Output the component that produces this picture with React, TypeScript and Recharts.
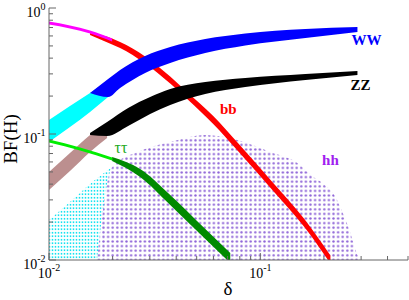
import React from 'react';
import { ComposedChart, Area, XAxis, YAxis, ReferenceDot } from 'recharts';

type Row = [number, number, number]; // [delta, lower BF, upper BF]

// hh : dotted scan region (light mass part / heavy mass part)
const hhLowMass: Row[] = [
  [0.01, 0.01, 0.02077],
  [0.01257, 0.01, 0.02886],
  [0.01564, 0.01, 0.0401],
  [0.01989, 0.01, 0.05471],
];
const hhHighMass: Row[] = [
  [0.01688, 0.01, 0.01],
  [0.01989, 0.01, 0.05471],
  [0.027, 0.01, 0.0733],
  [0.03746, 0.01, 0.0864],
  [0.05487, 0.01, 0.09819],
  [0.0778, 0.01, 0.0896],
  [0.1115, 0.01, 0.07197],
  [0.1498, 0.01, 0.05885],
  [0.1783, 0.01, 0.04557],
  [0.1967, 0.01, 0.04084],
  [0.2268, 0.01, 0.03162],
  [0.2447, 0.01, 0.02404],
  [0.2641, 0.01, 0.0173],
  [0.2882, 0.01, 0.01096],
  [0.2978, 0.01, 0.01],
];

// bb
const bbLowMass: Row[] = [
  [0.01, 0.7398, 0.7813],
  [0.01257, 0.6878, 0.7266],
  [0.01564, 0.6275, 0.6629],
  [0.01989, 0.5422, 0.5727],
];
const bbHighMass: Row[] = [
  [0.01564, 0.6105, 0.6332],
  [0.01989, 0.5133, 0.5727],
  [0.0217, 0.4815, 0.5372],
  [0.02851, 0.3626, 0.4122],
  [0.03746, 0.2516, 0.286],
  [0.04508, 0.1896, 0.2154],
  [0.05988, 0.1201, 0.1389],
  [0.07952, 0.07132, 0.08254],
  [0.09469, 0.05133, 0.0594],
  [0.114, 0.03594, 0.04159],
  [0.1616, 0.01828, 0.02115],
  [0.2147, 0.00938, 0.01086],
];

// tau tau
const ttLowMass: Row[] = [
  [0.01, 0.08561, 0.09045],
  [0.01403, 0.07396, 0.07813],
  [0.01989, 0.06161, 0.06507],
];
const ttHighMass: Row[] = [
  [0.01989, 0.06105, 0.06567],
  [0.027, 0.04557, 0.05275],
  [0.03746, 0.02733, 0.0328],
  [0.0537, 0.01522, 0.01828],
  [0.07207, 0.00947, 0.01136],
];

// WW
const wwLowMass: Row[] = [
  [0.01, 0.0864, 0.1292],
  [0.01257, 0.1136, 0.1668],
  [0.01564, 0.1495, 0.2115],
  [0.01904, 0.1966, 0.2683],
];
const wwHighMass: Row[] = [
  [0.01564, 0.2115, 0.2115],
  [0.01904, 0.1966, 0.2733],
  [0.0217, 0.2317, 0.322],
  [0.02851, 0.3049, 0.4159],
  [0.03746, 0.3661, 0.4903],
  [0.05487, 0.4394, 0.5675],
  [0.08489, 0.504, 0.6275],
  [0.1635, 0.5779, 0.6813],
  [0.2882, 0.6449, 0.7067],
];

// ZZ
const zzLowMass: Row[] = [
  [0.01, 0.03594, 0.04993],
  [0.01257, 0.05085, 0.07067],
  [0.01564, 0.07197, 0.09819],
  [0.01883, 0.09296, 0.1223],
];
const zzHighMass: Row[] = [
  [0.01564, 0.0982, 0.1018],
  [0.01883, 0.09641, 0.1245],
  [0.02369, 0.1157, 0.1608],
  [0.0301, 0.1441, 0.1966],
  [0.03746, 0.1699, 0.2276],
  [0.05487, 0.2077, 0.2586],
  [0.08489, 0.236, 0.2783],
  [0.1635, 0.2683, 0.2995],
  [0.2882, 0.2939, 0.3162],
];

// channel labels
const labelNames = ['WW', 'ZZ', 'bb', 'ττ', 'hh'];
const labelDelta = [0.318, 0.2978, 0.0705, 0.0219, 0.2147];
const labelBF = [0.557, 0.2448, 0.158, 0.0788, 0.0622];

const xTicks = [0.01, 0.02, 0.03, 0.04, 0.05, 0.06, 0.07, 0.08, 0.09, 0.1, 0.2, 0.3, 0.4, 0.5];
const yTicks = [
  0.01, 0.02, 0.03, 0.04, 0.05, 0.06, 0.07, 0.08, 0.09,
  0.1, 0.2, 0.3, 0.4, 0.5, 0.6, 0.7, 0.8, 0.9, 1,
];

const FONT = "'Liberation Serif', 'Times New Roman', 'DejaVu Serif', serif";
const AXIS = '#666666';
const MAJOR = 7;
const MINOR = 4;

const expOf = (v: number) => Math.round(Math.log10(v));
const isMajor = (v: number) => Math.abs(Math.log10(v) - expOf(v)) < 1e-6;

const toRows = (r: Row[]) => r.map(([x, lo, hi]) => ({ x, band: [lo, hi] }));

function BottomTick(props: any) {
  const { x, y, payload } = props;
  const v = payload.value;
  const major = isMajor(v);
  return (
    <g>
      <line x1={x} y1={y} x2={x} y2={y - (major ? MAJOR : MINOR)} stroke={AXIS} strokeWidth={1} />
      {major && (
        <text x={x} y={y + 17.5} textAnchor="middle" fontFamily={FONT} fontSize={14} fill="#000">
          <tspan>10</tspan>
          <tspan dy={-7} fontSize={10}>{String(expOf(v))}</tspan>
        </text>
      )}
    </g>
  );
}

function TopTick(props: any) {
  const { x, y, payload } = props;
  const major = isMajor(payload.value);
  return <line x1={x} y1={y} x2={x} y2={y + (major ? MAJOR : MINOR)} stroke={AXIS} strokeWidth={1} />;
}

function LeftTick(props: any) {
  const { x, y, payload } = props;
  const v = payload.value;
  const major = isMajor(v);
  return (
    <g>
      <line x1={x} y1={y} x2={x + (major ? MAJOR : MINOR)} y2={y} stroke={AXIS} strokeWidth={1} />
      {major && (
        <text x={x - 3.5} y={y + 8.5} textAnchor="end" fontFamily={FONT} fontSize={14} fill="#000">
          <tspan>10</tspan>
          <tspan dy={-7} fontSize={10}>{String(expOf(v))}</tspan>
        </text>
      )}
    </g>
  );
}

function RightTick(props: any) {
  const { x, y, payload } = props;
  const major = isMajor(payload.value);
  return <line x1={x} y1={y} x2={x - (major ? MAJOR : MINOR)} y2={y} stroke={AXIS} strokeWidth={1} />;
}

const bands: { rows: Row[]; fill: string }[] = [
  { rows: hhLowMass, fill: 'url(#hhCyanDots)' },
  { rows: hhHighMass, fill: 'url(#hhPurpleDots)' },
  { rows: bbHighMass, fill: '#ff0000' },
  { rows: bbLowMass, fill: '#ff00ff' },
  { rows: wwLowMass, fill: '#00ffff' },
  { rows: wwHighMass, fill: '#0000ff' },
  { rows: zzLowMass, fill: '#bc8f8f' },
  { rows: zzHighMass, fill: '#000000' },
  { rows: ttHighMass, fill: '#008a00' },
  { rows: ttLowMass, fill: '#00ee00' },
];

const labelStyles = [
  { fill: '#0000ff', fontWeight: 'bold', fontSize: 15 },
  { fill: '#000000', fontWeight: 'bold', fontSize: 15 },
  { fill: '#ff0000', fontWeight: 'bold', fontSize: 15 },
  { fill: '#22aa22', fontWeight: 'normal', fontSize: 16 },
  { fill: '#a020f0', fontWeight: 'bold', fontSize: 15 },
];

export default function App() {
  return (
    <div style={{ position: 'absolute', left: 0, top: 0, width: 409, height: 300, background: '#fff' }}>
      <ComposedChart width={409} height={300} margin={{ top: 8, right: 1, bottom: 0, left: 0 }}>
        <defs>
          <pattern id="hhCyanDots" patternUnits="userSpaceOnUse" width={3} height={3.5}>
            <circle cx={1.5} cy={1.75} r={0.9} fill="#00e0ee" />
          </pattern>
          <pattern id="hhPurpleDots" patternUnits="userSpaceOnUse" width={4.6} height={4.6}>
            <rect x={0} y={0} width={4.6} height={4.6} fill="#ffffff" />
            <circle cx={2.3} cy={2.3} r={1.2} fill="#8f66d8" />
          </pattern>
        </defs>
        <XAxis
          xAxisId="b"
          type="number"
          dataKey="x"
          scale="log"
          domain={[0.01, 0.5]}
          allowDataOverflow
          ticks={xTicks}
          interval={0}
          tickSize={0}
          tickMargin={0}
          tickLine={false}
          axisLine={{ stroke: AXIS }}
          tick={BottomTick}
          orientation="bottom"
          height={40}
        />
        <XAxis
          xAxisId="t"
          type="number"
          dataKey="x"
          scale="log"
          domain={[0.01, 0.5]}
          allowDataOverflow
          ticks={xTicks}
          interval={0}
          tickSize={0}
          tickMargin={0}
          tickLine={false}
          axisLine={{ stroke: AXIS }}
          tick={TopTick}
          orientation="top"
          height={0}
        />
        <YAxis
          yAxisId="l"
          type="number"
          scale="log"
          domain={[0.01, 1]}
          allowDataOverflow
          ticks={yTicks}
          interval={0}
          tickSize={0}
          tickMargin={0}
          tickLine={false}
          axisLine={{ stroke: AXIS }}
          tick={LeftTick}
          orientation="left"
          width={49}
        />
        <YAxis
          yAxisId="r"
          type="number"
          scale="log"
          domain={[0.01, 1]}
          allowDataOverflow
          ticks={yTicks}
          interval={0}
          tickSize={0}
          tickMargin={0}
          tickLine={false}
          axisLine={{ stroke: AXIS }}
          tick={RightTick}
          orientation="right"
          width={0}
        />
        {bands.map((b, i) => (
          <Area
            key={i}
            xAxisId="b"
            yAxisId="l"
            data={toRows(b.rows)}
            dataKey="band"
            type="monotone"
            stroke="none"
            fill={b.fill}
            fillOpacity={1}
            dot={false}
            activeDot={false}
            isAnimationActive={false}
          />
        ))}
        {labelNames.map((name, i) => (
          <ReferenceDot
            key={name}
            xAxisId="b"
            yAxisId="l"
            x={labelDelta[i]}
            y={labelBF[i]}
            r={0}
            fill="none"
            stroke="none"
            label={{ value: name, position: 'center', fontFamily: FONT, ...labelStyles[i] }}
          />
        ))}
      </ComposedChart>
      <svg
        width={409}
        height={300}
        style={{ position: 'absolute', left: 0, top: 0, pointerEvents: 'none' }}
      >
        <text
          x={17}
          y={139}
          transform="rotate(-90 17 139)"
          textAnchor="middle"
          fontFamily={FONT}
          fontSize={19}
          fill="#000"
        >
          BF(H)
        </text>
        <text x={228} y={295} textAnchor="middle" fontFamily={FONT} fontSize={19} fill="#000">
          δ
        </text>
      </svg>
    </div>
  );
}
